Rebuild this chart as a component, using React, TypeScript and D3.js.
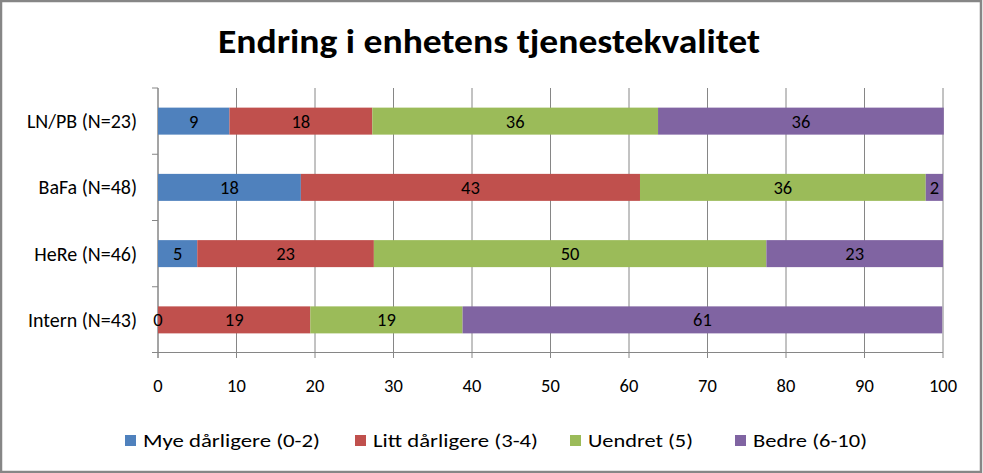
import React from "react";
import * as d3 from "d3";

const categories = ["LN/PB (N=23)", "BaFa (N=48)", "HeRe (N=46)", "Intern (N=43)"];
const seriesNames = ["Mye dårligere (0-2)", "Litt dårligere  (3-4)", "Uendret (5)", "Bedre (6-10)"];
const myeDarligere = [9.1, 18.2, 5.0, 0];
const littDarligere = [18.2, 43.2, 22.5, 19.4];
const uendret = [36.4, 36.4, 50.0, 19.4];
const bedre = [36.4, 2.2, 22.5, 61.1];
const xTicks = [0, 10, 20, 30, 40, 50, 60, 70, 80, 90, 100];
const colors = ["#4F81BD", "#C0504D", "#9BBB59", "#8064A2"];

const W = 983;
const H = 473;
const FONT = "Carlito, Calibri, Lato, sans-serif";
const legendX = [125, 355, 570, 735];
const legendTextW = [177, 165, 105, 114];

export default function App() {
  const series = [myeDarligere, littDarligere, uendret, bedre];
  const x = d3.scaleLinear().domain([0, 100]).range([158, 943]);
  const y = d3.scaleBand().domain(categories).range([88, 353]);
  const barH = 27;
  const table = categories.map((c, i) => {
    const row: any = { cat: c };
    seriesNames.forEach((s, j) => (row[s] = series[j][i]));
    return row;
  });
  const stacked = d3.stack().keys(seriesNames)(table);
  const grid = "#868686";

  return (
    <svg
      width={W}
      height={H}
      style={{ position: "fixed", left: 0, top: 0, background: "#fff" }}
      fontFamily={FONT}
    >
      <rect x={0} y={0} width={W} height={H} fill="#fff" />
      <rect x={1} y={1} width={W - 3} height={H - 2} fill="none" stroke="#868686" strokeWidth={2.5} />
      <text
        x={489}
        y={53}
        textAnchor="middle"
        fontSize={34}
        fontWeight="bold"
        fill="#000"
        textLength={542}
        lengthAdjust="spacingAndGlyphs"
      >
        Endring i enhetens tjenestekvalitet
      </text>
      {xTicks.map((t) => (
        <line key={"g" + t} x1={x(t)} x2={x(t)} y1={88} y2={358} stroke={grid} strokeWidth={1} />
      ))}
      <line x1={158} x2={158} y1={88} y2={358} stroke={grid} />
      <line x1={152} x2={943} y1={352.5} y2={352.5} stroke={grid} />
      {categories.map((c, i) => (
        <line key={"yt" + i} x1={152} x2={158} y1={y(c) as number} y2={y(c) as number} stroke={grid} />
      ))}
      {stacked.map((s, j) =>
        s.map((d, i) => {
          const yc = (y(categories[i]) as number) + y.bandwidth() / 2;
          return (
            <rect
              key={`b${j}-${i}`}
              x={x(d[0])}
              y={yc - barH / 2}
              width={Math.max(0, x(d[1]) - x(d[0]))}
              height={barH}
              fill={colors[j]}
            />
          );
        })
      )}
      {stacked.map((s, j) =>
        s.map((d, i) => {
          const yc = (y(categories[i]) as number) + y.bandwidth() / 2;
          return (
            <text
              key={`l${j}-${i}`}
              x={(x(d[0]) + x(d[1])) / 2}
              y={yc}
              dy="0.35em"
              textAnchor="middle"
              fontSize={18.5}
              fill="#000"
            >
              {Math.round(series[j][i])}
            </text>
          );
        })
      )}
      {categories.map((c) => (
        <text
          key={"yl" + c}
          x={137}
          y={(y(c) as number) + y.bandwidth() / 2}
          dy="0.35em"
          textAnchor="end"
          fontSize={20}
          fill="#000"
        >
          {c}
        </text>
      ))}
      {xTicks.map((t) => (
        <text key={"xl" + t} x={x(t)} y={386} dy="0.35em" textAnchor="middle" fontSize={18.5} fill="#000">
          {t}
        </text>
      ))}
      {seriesNames.map((s, j) => (
        <g key={"lg" + j}>
          <rect x={legendX[j]} y={435} width={11} height={11} fill={colors[j]} />
          <text
            x={legendX[j] + 18}
            y={440}
            dy="0.35em"
            fontSize={19}
            fill="#000"
            textLength={legendTextW[j]}
            lengthAdjust="spacingAndGlyphs"
          >
            {s}
          </text>
        </g>
      ))}
    </svg>
  );
}
